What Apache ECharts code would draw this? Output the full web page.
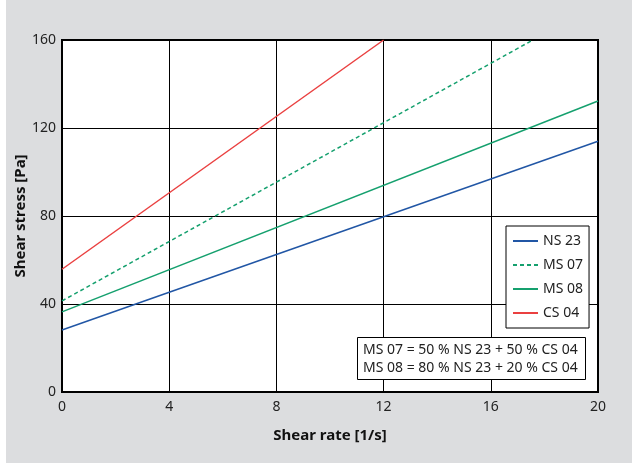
<!DOCTYPE html>
<html><head><meta charset="utf-8">
<script src="https://cdn.jsdelivr.net/npm/echarts@6/dist/echarts.min.js"></script>
<style>html,body{margin:0;padding:0;background:#fff;}#c{position:absolute;left:6px;top:0;width:626px;height:463px;}</style>
</head><body><div id="c"></div>
<script>
const xTicks = [0, 4, 8, 12, 16, 20];
const yTicks = [0, 40, 80, 120, 160];
const seriesNames = ['NS 23', 'MS 07', 'MS 08', 'CS 04'];
const ns23 = [[0, 28.2], [20, 114]];
const ms07 = [[0, 41.4], [17.57, 160]];
const ms08 = [[0, 36.4], [20, 132.3]];
const cs04 = [[0, 55.8], [12, 160]];
const note = ['MS 07 = 50 % NS 23 + 50 % CS 04', 'MS 08 = 80 % NS 23 + 20 % CS 04'];
const colors = ['#2156a5', '#15a06e', '#15a06e', '#ea4040'];
const ff = '"Noto Sans", sans-serif';

const chart = echarts.init(document.getElementById('c'));
const mk = (name, data, color, type) => ({
  name, type: 'line', data, symbol: 'none', animation: false,
  lineStyle: { color, width: 1.5, type: type || 'solid' }, itemStyle: { color }
});
chart.setOption({
  backgroundColor: '#dcdddf',
  textStyle: { fontFamily: ff },
  grid: { left: 56, right: 34, top: 40, bottom: 71, containLabel: false, outerBoundsMode: 'none', show: true, borderColor: '#000', borderWidth: 2, backgroundColor: '#fff' },
  xAxis: {
    type: 'value', min: xTicks[0], max: xTicks[xTicks.length - 1], interval: 4,
    name: 'Shear rate [1/s]', nameLocation: 'middle', nameGap: 36, nameMoveOverlap: false,
    nameTextStyle: { fontFamily: ff, fontWeight: 'bold', fontSize: 15, color: '#111' },
    axisLine: { show: false }, axisTick: { show: false },
    axisLabel: { color: '#222', fontSize: 14, margin: 8 },
    splitLine: { lineStyle: { color: '#000', width: 1 } }
  },
  yAxis: {
    type: 'value', min: yTicks[0], max: yTicks[yTicks.length - 1], interval: 40,
    name: 'Shear stress [Pa]', nameLocation: 'middle', nameGap: 34, nameMoveOverlap: false,
    nameTextStyle: { fontFamily: ff, fontWeight: 'bold', fontSize: 15, color: '#111' },
    axisLine: { show: false }, axisTick: { show: false },
    axisLabel: { color: '#222', fontSize: 14, margin: 6 },
    splitLine: { lineStyle: { color: '#000', width: 1 } }
  },
  legend: {
    data: seriesNames, orient: 'vertical', left: 500, top: 226,
    backgroundColor: '#fff', borderColor: '#000', borderWidth: 1,
    padding: [8, 6, 8, 6], itemWidth: 25, itemHeight: 13, itemGap: 10,
    itemStyle: { opacity: 0 },
    textStyle: { fontFamily: ff, fontSize: 14, color: '#222' }
  },
  title: {
    text: note.join('\n'), left: 351, top: 337,
    backgroundColor: '#fff', borderColor: '#000', borderWidth: 1,
    padding: [4, 8, 3, 6],
    textStyle: { fontFamily: ff, fontSize: 14, fontWeight: 'normal', color: '#222', lineHeight: 18 }
  },
  series: [
    mk(seriesNames[0], ns23, colors[0]),
    mk(seriesNames[1], ms07, colors[1], [4, 3]),
    mk(seriesNames[2], ms08, colors[2]),
    mk(seriesNames[3], cs04, colors[3])
  ]
});
</script></body></html>
